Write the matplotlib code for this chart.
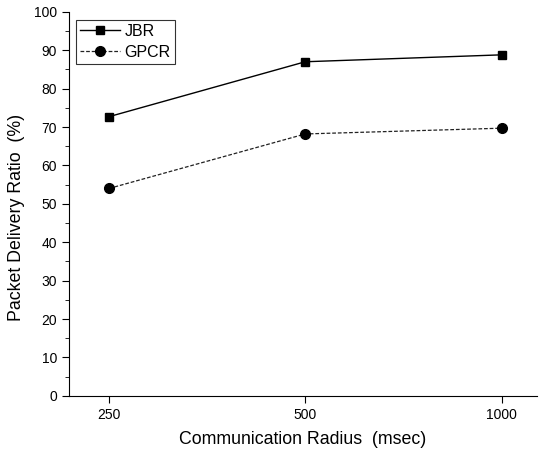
import numpy as np
import matplotlib.pyplot as plt
from matplotlib.ticker import MultipleLocator

radius = ["250", "500", "1000"]
jbr = [72.7, 87.0, 88.8]
gpcr = [54.0, 68.2, 69.7]

plt.rcParams['font.family'] = ['Liberation Sans', 'DejaVu Sans']

fig = plt.figure(figsize=(5.39, 4.55), dpi=100)
ax = fig.add_axes([0.128, 0.130, 0.868, 0.844])

x = np.arange(len(radius))
ax.plot(x, jbr, color="black", linewidth=1, marker="s", markersize=6, label="JBR")
ax.plot(x, gpcr, color="#222222", linewidth=0.9, linestyle=(0, (3, 1.5)), marker="o",
        markerfacecolor="black", markeredgecolor="black", markersize=7, label="GPCR")

ax.set_xlim(-0.204, 2.18)
ax.set_ylim(0, 100)
ax.set_xticks(x)
ax.set_xticklabels(radius)
ax.yaxis.set_major_locator(MultipleLocator(10))
ax.yaxis.set_minor_locator(MultipleLocator(5))
ax.tick_params(direction="out", labelsize=10, length=5)
ax.tick_params(which="minor", direction="out", length=3)
ax.spines["top"].set_visible(False)
ax.spines["right"].set_visible(False)

ax.set_xlabel("Communication Radius  (msec)", fontsize=12.8, labelpad=7)
ax.set_ylabel("Packet Delivery Ratio  (%)", fontsize=12.8)
ax.yaxis.set_label_coords(-0.094, 0.464)

leg = ax.legend(loc="upper left", fontsize=11.5, frameon=True, fancybox=False,
                edgecolor="black", bbox_to_anchor=(0.015, 0.98), borderaxespad=0,
                handlelength=2.5, borderpad=0.25, labelspacing=0.4, handletextpad=0.3)
leg.get_frame().set_linewidth(0.8)

fig.savefig("out.png", dpi=100)
